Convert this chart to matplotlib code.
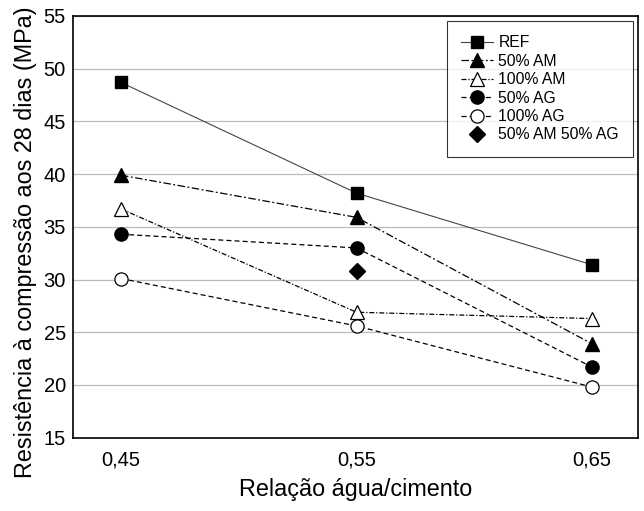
import matplotlib
matplotlib.use("Agg")
import matplotlib.pyplot as plt

plt.rcParams['font.family'] = ['Liberation Sans', 'DejaVu Sans']

x = [0.45, 0.55, 0.65]
ref = [48.7, 38.2, 31.4]
am50 = [39.9, 35.9, 23.9]
am100 = [36.7, 26.9, 26.3]
ag50 = [34.3, 33.0, 21.7]
ag100 = [30.1, 25.6, 19.8]
x_mix = [0.55]
mix = [30.8]

fig = plt.figure(figsize=(6.44, 5.11), dpi=100)
ax = fig.add_axes([72.7/644, 1 - 437.7/511, (638 - 72.7)/644, (437.7 - 16)/511])

ax.plot(x, ref, '-', color='#444444', lw=0.8, marker='s', ms=8.5, mfc='black', mec='black', label='REF')
ax.plot(x, am50, color='black', lw=0.9, dashes=[6, 2, 1.5, 2], marker='^', ms=10.5, mfc='black', mec='black', label='50% AM')
ax.plot(x, am100, color='black', lw=0.9, dashes=[4, 1.5, 1, 1.5], marker='^', ms=10.5, mfc='white', mec='black', mew=0.9, label='100% AM')
ax.plot(x, ag50, color='black', lw=0.9, dashes=[4, 2.5], marker='o', ms=9.5, mfc='black', mec='black', label='50% AG')
ax.plot(x, ag100, color='black', lw=0.9, dashes=[4, 2.5], marker='o', ms=9.5, mfc='white', mec='black', mew=0.9, label='100% AG')
ax.plot(x_mix, mix, ls='none', marker='D', ms=8.5, mfc='black', mec='black', label='50% AM 50% AG')

ax.set_xlim(0.4295, 0.6695)
ax.set_ylim(15, 55)
ax.set_xticks(x)
ax.set_xticklabels(['0,45', '0,55', '0,65'])
ax.set_yticks(range(15, 56, 5))
ax.tick_params(length=0, labelsize=14.5)
ax.tick_params(axis='x', pad=9)
ax.tick_params(axis='y', pad=5)
ax.yaxis.grid(True, color='#bbbbbb', lw=0.9)
ax.set_axisbelow(True)
for s in ax.spines.values():
    s.set_linewidth(1.2)
    s.set_color('black')

ax.set_xlabel('Relação água/cimento', fontsize=16.8, labelpad=6)
ax.set_ylabel('Resistência à compressão aos 28 dias (MPa)', fontsize=16.8)
ax.yaxis.set_label_coords(-0.063, 0.463)

leg = ax.legend(loc='upper right', fontsize=11.3, frameon=True, fancybox=False,
                edgecolor='black', handlelength=2.0, handletextpad=0.35,
                borderpad=0.9, labelspacing=0.22, borderaxespad=0,
                bbox_to_anchor=(0.991, 0.988))
leg.get_frame().set_linewidth(0.8)

fig.savefig('out.png', dpi=100)
